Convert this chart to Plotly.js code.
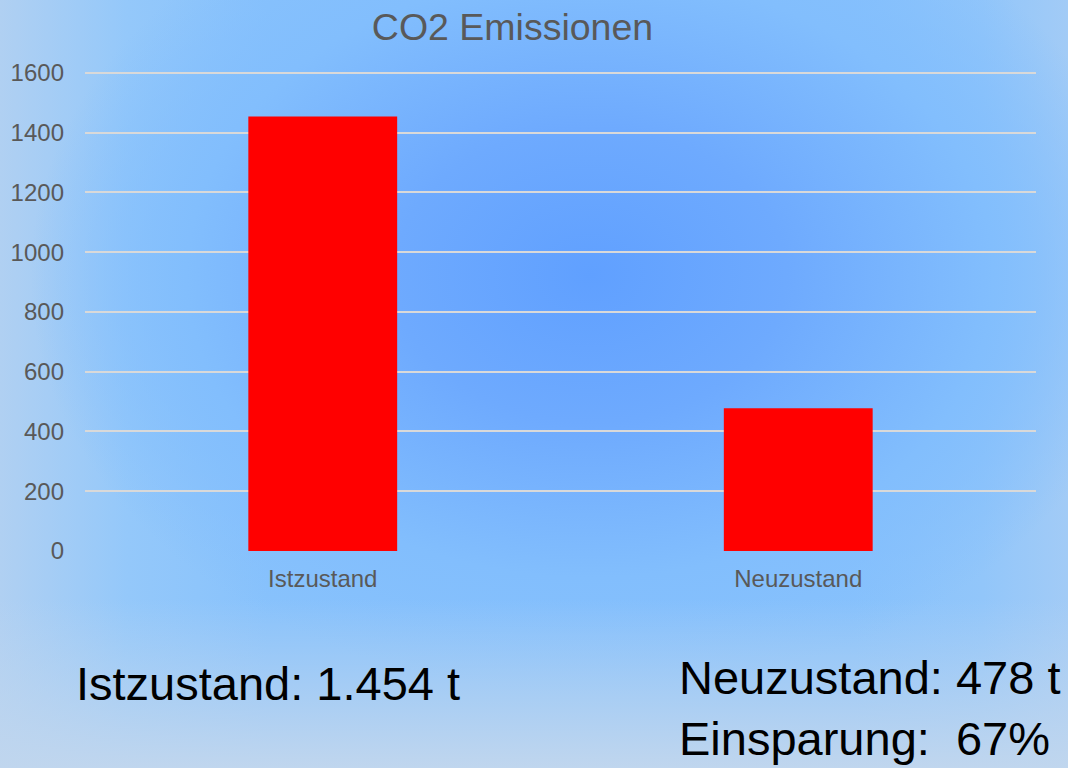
<!DOCTYPE html>
<html>
<head>
<meta charset="utf-8">
<script src="https://cdn.plot.ly/plotly-3.0.1.min.js"></script>
<style>
  html, body { margin: 0; padding: 0; width: 1068px; height: 768px; overflow: hidden; }
  body {
    background:
      linear-gradient(to bottom, rgba(192,214,238,0) 0%, rgba(192,214,238,0) 78%, rgba(192,214,238,1) 100%),
      radial-gradient(ellipse 560px 420px at 590px 275px, #60a0ff 0%, #6eaafe 35%, #82befd 72%, rgba(136,196,252,0) 100%),
      linear-gradient(to right, #b0d0f2 0%, #94c8fa 12%, #88c2fc 25%, #88c2fc 80%, #92c6fa 92%, #a2cbf6 100%);
  }
  #chart { width: 1068px; height: 768px; }
</style>
</head>
<body>
<div id="chart"></div>
<script>
const categories = ["Istzustand", "Neuzustand"];
const emissions = [1454, 478];
const yTicks = [0, 200, 400, 600, 800, 1000, 1200, 1400, 1600];
const titleText = "CO2 Emissionen";
const summaryLeft = "Istzustand: 1.454 t";
const summaryRight = ["Neuzustand: 478 t", "Einsparung:  67%"];

const W = 1068, H = 768;
const yMax = 1606;
const pxPerUnit = 478 / 1600;
const plotL = 85, plotR = 1036, plotB = 551;
const plotT = plotB - yMax * pxPerUnit;
const pw = plotR - plotL, ph = plotB - plotT;
const px2x = px => (px - plotL) / pw;
const py2y = py => (plotB - py) / ph;

const trace = {
  type: 'bar',
  x: categories,
  y: emissions,
  marker: { color: '#ff0000', line: { width: 0 } },
  hoverinfo: 'x+y'
};

const layout = {
  width: W, height: H,
  paper_bgcolor: 'rgba(0,0,0,0)',
  plot_bgcolor: 'rgba(0,0,0,0)',
  margin: { l: plotL, r: W - plotR, t: plotT, b: H - plotB, pad: 0 },
  bargap: 0.687,
  showlegend: false,
  font: { family: '"Liberation Sans", Arial, sans-serif', color: '#595959' },
  title: {
    text: titleText,
    font: { size: 37.5, color: '#595959', family: '"Liberation Sans", Arial, sans-serif' },
    xref: 'container', yref: 'container',
    x: 512.5 / W, xanchor: 'center',
    y: 1 - 27 / H, yanchor: 'middle'
  },
  xaxis: {
    type: 'category',
    showgrid: false, zeroline: false, showline: false,
    ticks: '',
    tickfont: { size: 24, color: '#595959' },
    ticklabelstandoff: 11,
    fixedrange: true
  },
  yaxis: {
    range: [0, yMax],
    tickvals: yTicks,
    ticktext: yTicks.map(String),
    showgrid: true, gridcolor: '#d9d9d9', gridwidth: 2,
    zeroline: false, showline: false,
    ticks: '',
    tickfont: { size: 24, color: '#595959' },
    ticklabelstandoff: 20,
    fixedrange: true
  },
  annotations: [
    {
      xref: 'paper', yref: 'paper',
      x: px2x(74), y: py2y(683),
      xanchor: 'left', yanchor: 'middle',
      text: summaryLeft, showarrow: false, align: 'left',
      font: { size: 47, color: '#000000', family: '"Liberation Sans", Arial, sans-serif' }
    },
    {
      xref: 'paper', yref: 'paper',
      x: px2x(677), y: py2y(708),
      xanchor: 'left', yanchor: 'middle',
      text: summaryRight.join('<br>'), showarrow: false, align: 'left',
      font: { size: 47, color: '#000000', family: '"Liberation Sans", Arial, sans-serif' }
    }
  ]
};

Plotly.newPlot('chart', [trace], layout, { displayModeBar: false });
</script>
</body>
</html>
